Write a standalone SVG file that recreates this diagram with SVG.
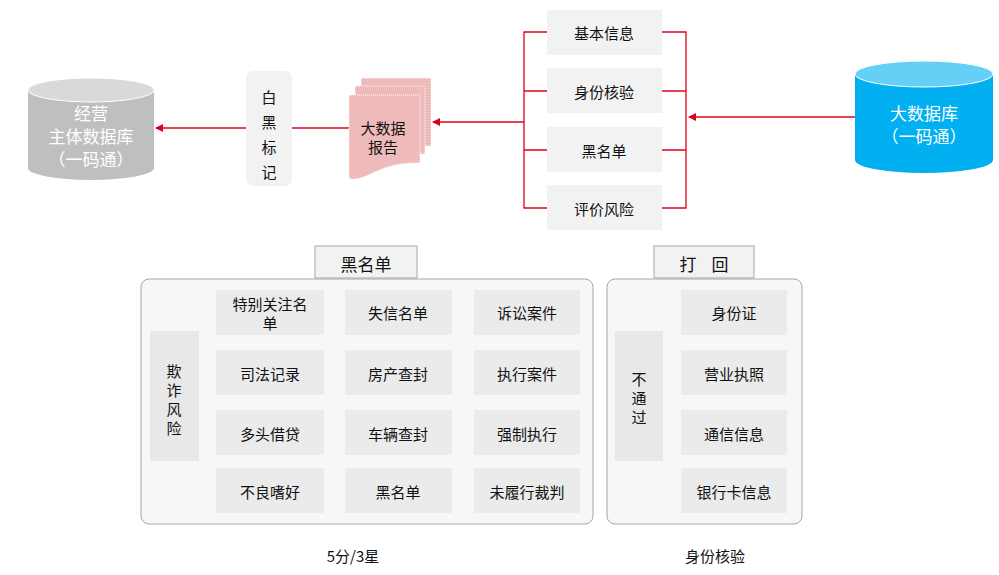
<svg xmlns="http://www.w3.org/2000/svg" width="999" height="575" viewBox="0 0 999 575">
<style>
text{font-family:"Noto Sans CJK SC","Liberation Sans",sans-serif;text-anchor:middle;dominant-baseline:central;font-size:15px;fill:#111}
.c{fill:#f2f2f2}
.l{stroke:#e0001b;stroke-width:1.3;fill:none}
.w{fill:#fff;font-size:17px}
</style>
<defs><marker id="a" markerWidth="8" markerHeight="8" refX="7" refY="4" orient="auto" markerUnits="userSpaceOnUse"><path d="M0,0L8,4L0,8z" fill="#e0001b"/></marker></defs>
<g id="connectors">
<path class="l" d="M547,32H524V208H547M524,91H547M524,150H547M662,32H686V208H662M662,91H686M662,150H686"/>
<path class="l" d="M855,117H689" marker-end="url(#a)"/>
<path class="l" d="M524,122H433" marker-end="url(#a)"/>
<path class="l" d="M349,128H156" marker-end="url(#a)"/>
</g>
<g id="db-left"><path d="M28,90V168A63,12 0 0 0 154,168V90z" fill="#bfbfbf"/><ellipse cx="91" cy="90" rx="63" ry="12" fill="#d9d9d9" stroke="#fff"/>
<text class="w" x="91" y="112">经营</text><text class="w" x="91" y="135">主体数据库</text><text class="w" x="91" y="158">（一码通）</text></g>
<g id="db-right"><path d="M855,74V160A69,13 0 0 0 993,160V74z" fill="#00b0f0"/><ellipse cx="924" cy="74" rx="69" ry="13" fill="#66cff5" stroke="#fff"/>
<text class="w" x="924" y="112">大数据库</text><text class="w" x="924" y="135">（一码通）</text></g>
<g id="mark"><rect x="246" y="71" width="46" height="115" rx="7" class="c"/><text x="269" y="96">白</text><text x="269" y="121">黑</text><text x="269" y="146">标</text><text x="269" y="171">记</text></g>
<g id="report" fill="#efbaba" stroke="#fff" stroke-dasharray="1 1">
<rect x="361" y="78" width="70" height="68"/><rect x="355" y="86" width="70" height="68"/>
<path d="M349,95H420V163Q395,162 375,172T349,178z"/>
<text x="383" y="127" style="stroke:none">大数据</text><text x="383" y="146" style="stroke:none">报告</text></g>
<g id="n1"><rect x="547" y="10" width="115" height="45" class="c"/><text x="604" y="32">基本信息</text></g>
<g id="n2"><rect x="547" y="68" width="115" height="45" class="c"/><text x="604" y="91">身份核验</text></g>
<g id="n3"><rect x="547" y="127" width="115" height="45" class="c"/><text x="604" y="150">黑名单</text></g>
<g id="n4"><rect x="547" y="185" width="115" height="45" class="c"/><text x="604" y="208">评价风险</text></g>
<g id="panel-left"><rect x="141" y="279" width="452" height="245" rx="8" fill="#f7f7f7" stroke="#a6a6a6"/>
<rect x="315" y="246" width="102" height="32" fill="#f2f2f2" stroke="#a6a6a6"/><text x="366" y="263" style="font-size:17px">黑名单</text>
<rect x="150" y="331" width="49" height="130" fill="#e8e8e8"/><text x="174" y="370">欺</text><text x="174" y="389">诈</text><text x="174" y="408">风</text><text x="174" y="427">险</text>
<g fill="#ebebeb">
<rect x="216" y="290" width="108" height="45"/><rect x="345" y="290" width="107" height="45"/><rect x="474" y="290" width="106" height="45"/>
<rect x="216" y="350" width="108" height="45"/><rect x="345" y="350" width="107" height="45"/><rect x="474" y="350" width="106" height="45"/>
<rect x="216" y="410" width="108" height="45"/><rect x="345" y="410" width="107" height="45"/><rect x="474" y="410" width="106" height="45"/>
<rect x="216" y="468" width="108" height="45"/><rect x="345" y="468" width="107" height="45"/><rect x="474" y="468" width="106" height="45"/></g>
<text x="270" y="303">特别关注名</text><text x="270" y="322">单</text><text x="398" y="312">失信名单</text><text x="527" y="312">诉讼案件</text>
<text x="270" y="373">司法记录</text><text x="398" y="373">房产查封</text><text x="527" y="373">执行案件</text>
<text x="270" y="433">多头借贷</text><text x="398" y="433">车辆查封</text><text x="527" y="433">强制执行</text>
<text x="270" y="491">不良嗜好</text><text x="398" y="491">黑名单</text><text x="527" y="491">未履行裁判</text>
<text x="353" y="555">5分/3星</text></g>
<g id="panel-right"><rect x="607" y="279" width="195" height="245" rx="8" fill="#f7f7f7" stroke="#a6a6a6"/>
<rect x="654" y="246" width="100" height="32" fill="#f2f2f2" stroke="#a6a6a6"/><text x="704" y="263" style="font-size:17px" xml:space="preserve">打    回</text>
<rect x="615" y="331" width="48" height="130" fill="#e8e8e8"/><text x="639" y="378">不</text><text x="639" y="397">通</text><text x="639" y="416">过</text>
<g fill="#ebebeb"><rect x="681" y="290" width="106" height="45"/><rect x="681" y="350" width="106" height="45"/><rect x="681" y="410" width="106" height="45"/><rect x="681" y="468" width="106" height="45"/></g>
<text x="734" y="312">身份证</text><text x="734" y="373">营业执照</text><text x="734" y="433">通信信息</text><text x="734" y="491">银行卡信息</text>
<text x="715" y="555">身份核验</text></g>
</svg>
